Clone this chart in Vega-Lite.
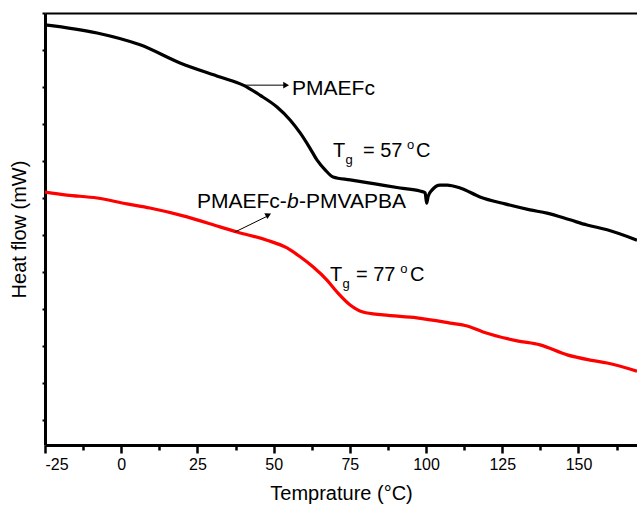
{
  "$schema": "https://vega.github.io/schema/vega-lite/v6.json",
  "width": 592,
  "height": 432,
  "autosize": {"type": "none"},
  "padding": {"left": 45, "top": 13, "right": 0, "bottom": 66},
  "config": {
    "view": {"stroke": null},
    "font": "Liberation Sans",
    "axis": {"labelFont": "Liberation Sans", "titleFont": "Liberation Sans", "grid": false, "domainColor": "black", "tickColor": "black", "labelColor": "black", "titleColor": "black"}
  },
  "datasets": {
    "curves": [
      {"series": "PMAEFc", "T": -25, "hf": 10.68},
      {"series": "PMAEFc", "T": -7.9, "hf": 10.46},
      {"series": "PMAEFc", "T": 6.2, "hf": 10.14},
      {"series": "PMAEFc", "T": 19.3, "hf": 9.65},
      {"series": "PMAEFc", "T": 32.4, "hf": 9.27},
      {"series": "PMAEFc", "T": 40.0, "hf": 9.05},
      {"series": "PMAEFc", "T": 45.5, "hf": 8.78},
      {"series": "PMAEFc", "T": 51.1, "hf": 8.46},
      {"series": "PMAEFc", "T": 55.4, "hf": 8.11},
      {"series": "PMAEFc", "T": 58.7, "hf": 7.76},
      {"series": "PMAEFc", "T": 61.9, "hf": 7.35},
      {"series": "PMAEFc", "T": 64.2, "hf": 7.03},
      {"series": "PMAEFc", "T": 66.9, "hf": 6.76},
      {"series": "PMAEFc", "T": 69.5, "hf": 6.57},
      {"series": "PMAEFc", "T": 75.1, "hf": 6.49},
      {"series": "PMAEFc", "T": 83.3, "hf": 6.38},
      {"series": "PMAEFc", "T": 91.5, "hf": 6.27},
      {"series": "PMAEFc", "T": 98.0, "hf": 6.19},
      {"series": "PMAEFc", "T": 99.7, "hf": 6.14},
      {"series": "PMAEFc", "T": 100.2, "hf": 5.86},
      {"series": "PMAEFc", "T": 100.7, "hf": 6.05},
      {"series": "PMAEFc", "T": 102.0, "hf": 6.22},
      {"series": "PMAEFc", "T": 104.6, "hf": 6.35},
      {"series": "PMAEFc", "T": 106.9, "hf": 6.35},
      {"series": "PMAEFc", "T": 111.2, "hf": 6.27},
      {"series": "PMAEFc", "T": 117.7, "hf": 6.03},
      {"series": "PMAEFc", "T": 125.9, "hf": 5.84},
      {"series": "PMAEFc", "T": 134.1, "hf": 5.68},
      {"series": "PMAEFc", "T": 139.7, "hf": 5.59},
      {"series": "PMAEFc", "T": 147.2, "hf": 5.41},
      {"series": "PMAEFc", "T": 152.8, "hf": 5.27},
      {"series": "PMAEFc", "T": 159.4, "hf": 5.14},
      {"series": "PMAEFc", "T": 169.2, "hf": 4.86},
      {"series": "PMAEFc-b-PMVAPBA", "T": -25, "hf": 6.16},
      {"series": "PMAEFc-b-PMVAPBA", "T": -17.8, "hf": 6.08},
      {"series": "PMAEFc-b-PMVAPBA", "T": -7.9, "hf": 6.0},
      {"series": "PMAEFc-b-PMVAPBA", "T": 1.9, "hf": 5.84},
      {"series": "PMAEFc-b-PMVAPBA", "T": 9.4, "hf": 5.73},
      {"series": "PMAEFc-b-PMVAPBA", "T": 21.6, "hf": 5.49},
      {"series": "PMAEFc-b-PMVAPBA", "T": 32.4, "hf": 5.22},
      {"series": "PMAEFc-b-PMVAPBA", "T": 38.0, "hf": 5.08},
      {"series": "PMAEFc-b-PMVAPBA", "T": 47.8, "hf": 4.86},
      {"series": "PMAEFc-b-PMVAPBA", "T": 54.4, "hf": 4.65},
      {"series": "PMAEFc-b-PMVAPBA", "T": 58.7, "hf": 4.41},
      {"series": "PMAEFc-b-PMVAPBA", "T": 62.9, "hf": 4.14},
      {"series": "PMAEFc-b-PMVAPBA", "T": 67.5, "hf": 3.78},
      {"series": "PMAEFc-b-PMVAPBA", "T": 70.8, "hf": 3.46},
      {"series": "PMAEFc-b-PMVAPBA", "T": 75.1, "hf": 3.11},
      {"series": "PMAEFc-b-PMVAPBA", "T": 79.3, "hf": 2.92},
      {"series": "PMAEFc-b-PMVAPBA", "T": 85.9, "hf": 2.84},
      {"series": "PMAEFc-b-PMVAPBA", "T": 97.0, "hf": 2.76},
      {"series": "PMAEFc-b-PMVAPBA", "T": 107.9, "hf": 2.62},
      {"series": "PMAEFc-b-PMVAPBA", "T": 113.5, "hf": 2.54},
      {"series": "PMAEFc-b-PMVAPBA", "T": 118.7, "hf": 2.38},
      {"series": "PMAEFc-b-PMVAPBA", "T": 129.9, "hf": 2.14},
      {"series": "PMAEFc-b-PMVAPBA", "T": 137.4, "hf": 2.03},
      {"series": "PMAEFc-b-PMVAPBA", "T": 146.3, "hf": 1.76},
      {"series": "PMAEFc-b-PMVAPBA", "T": 153.8, "hf": 1.62},
      {"series": "PMAEFc-b-PMVAPBA", "T": 159.4, "hf": 1.54},
      {"series": "PMAEFc-b-PMVAPBA", "T": 169.2, "hf": 1.32}
    ],
    "arrows": [
      {"T": 40.0, "hf": 9.05, "T2": 53.7, "hf2": 9.05},
      {"T": 37.3, "hf": 5.08, "T2": 48.2, "hf2": 5.52}
    ],
    "head1": [{"T": 54.1, "hf": 9.05}],
    "head2": [{"T": 48.3, "hf": 5.546}],
    "bigText": [
      {"T": 56.04, "hf": 8.78, "text": "PMAEFc"},
      {"T": 24.87, "hf": 5.73, "text": "PMAEFc-"},
      {"T": 58.33, "hf": 5.73, "text": "-PMVAPBA"}
    ],
    "italicText": [{"T": 54.4, "hf": 5.73, "text": "b"}],
    "tgText": [
      {"T": 69.49, "hf": 7.11, "text": "T"},
      {"T": 79.3, "hf": 7.11, "text": "= 57"},
      {"T": 96.7, "hf": 7.11, "text": "C"},
      {"T": 68.5, "hf": 3.757, "text": "T"},
      {"T": 77.0, "hf": 3.757, "text": "= 77"},
      {"T": 94.75, "hf": 3.757, "text": "C"}
    ],
    "smallText": [
      {"T": 73.6, "hf": 6.92, "text": "g"},
      {"T": 93.77, "hf": 7.32, "text": "o"},
      {"T": 72.6, "hf": 3.57, "text": "g"},
      {"T": 91.5, "hf": 3.97, "text": "o"}
    ]
  },
  "encoding": {
    "x": {"field": "T", "type": "quantitative", "scale": {"domain": [-25, 169.2], "nice": false, "zero": false}, "axis": null},
    "y": {"field": "hf", "type": "quantitative", "scale": {"domain": [-0.6757, 11], "nice": false, "zero": false},
      "axis": {"values": [0,1,2,3,4,5,6,7,8,9,10,11], "labels": false, "tickSize": 3, "tickWidth": 2, "domainWidth": 3, "title": "Heat flow (mW)", "titleFontSize": 20, "titleFontWeight": "normal", "titlePadding": 12}}
  },
  "layer": [
    {
      "data": {"name": "curves"},
      "mark": {"type": "line", "strokeWidth": 3.2, "clip": true, "interpolate": "monotone"},
      "encoding": {
        "x": {"field": "T", "type": "quantitative", "scale": {"domain": [-25, 169.2], "nice": false, "zero": false},
          "axis": {"values": [-25,0,25,50,75,100,125,150], "labelExpr": "'' + datum.value", "tickSize": 8, "tickWidth": 2.5, "domainWidth": 3, "labelFontSize": 16, "labelPadding": 3, "title": "Temprature (°C)", "titleFontSize": 20, "titleFontWeight": "normal", "titlePadding": 11}},
        "color": {"field": "series", "type": "nominal", "scale": {"domain": ["PMAEFc", "PMAEFc-b-PMVAPBA"], "range": ["#000000", "#ff0000"]}, "legend": null}
      }
    },
    {
      "data": {"name": "arrows"},
      "mark": {"type": "rule", "strokeWidth": 1, "color": "black"},
      "encoding": {
        "x": {"field": "T", "type": "quantitative", "scale": {"domain": [-25, 169.2], "nice": false, "zero": false},
          "axis": {"orient": "bottom", "values": [-12.5,12.5,37.5,62.5,87.5,112.5,137.5,162.5], "tickSize": 5, "tickWidth": 2.5, "labels": false, "domain": false, "title": null}},
        "x2": {"field": "T2"},
        "y2": {"field": "hf2"}
      }
    },
    {
      "data": {"name": "head1"},
      "mark": {"type": "point", "shape": "triangle-right", "filled": true, "color": "black", "size": 45, "opacity": 1},
      "encoding": {
        "x": {"field": "T", "type": "quantitative", "scale": {"domain": [-25, 169.2], "nice": false, "zero": false},
          "axis": {"orient": "top", "values": [-25,0,25,50,75,100,125,150], "ticks": false, "labels": false, "domainWidth": 2, "title": null}}
      }
    },
    {
      "data": {"name": "head2"},
      "mark": {"type": "point", "shape": "triangle-right", "filled": true, "color": "black", "size": 45, "opacity": 1, "angle": 333}
    },
    {
      "data": {"name": "bigText"},
      "mark": {"type": "text", "align": "left", "baseline": "alphabetic", "fontSize": 21, "color": "black"},
      "encoding": {"text": {"field": "text"}}
    },
    {
      "data": {"name": "italicText"},
      "mark": {"type": "text", "align": "left", "baseline": "alphabetic", "fontSize": 21, "fontStyle": "italic", "color": "black"},
      "encoding": {"text": {"field": "text"}}
    },
    {
      "data": {"name": "tgText"},
      "mark": {"type": "text", "align": "left", "baseline": "alphabetic", "fontSize": 20, "color": "black"},
      "encoding": {"text": {"field": "text"}}
    },
    {
      "data": {"name": "smallText"},
      "mark": {"type": "text", "align": "left", "baseline": "alphabetic", "fontSize": 13, "color": "black"},
      "encoding": {"text": {"field": "text"}}
    }
  ],
  "resolve": {"axis": {"x": "independent"}}
}
